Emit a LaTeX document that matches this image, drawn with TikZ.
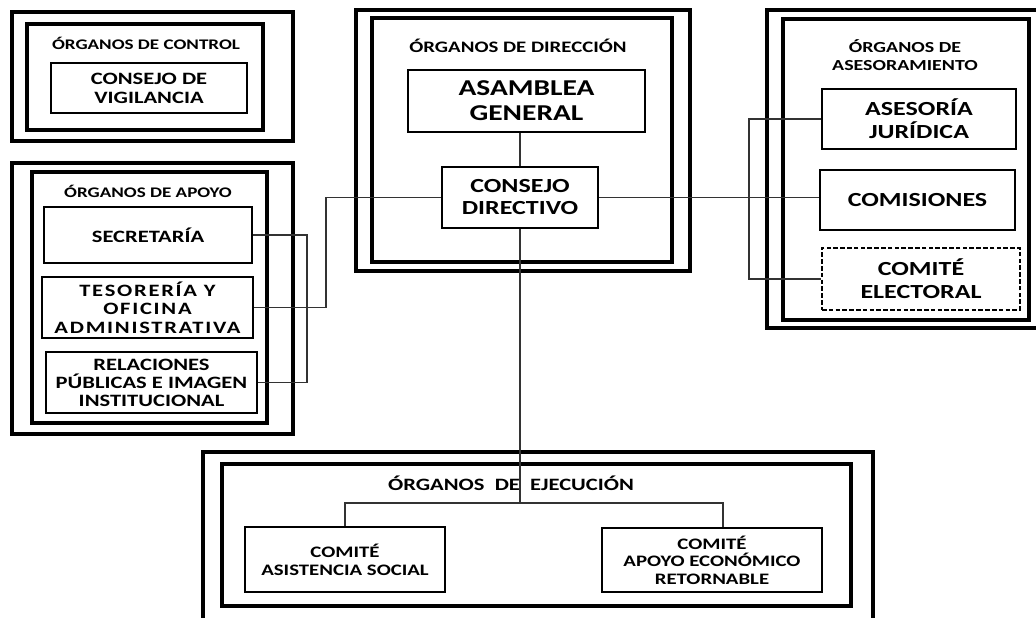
\documentclass[tikz,border=0pt]{standalone}
\usepackage{fontspec}
\setmainfont{Carlito}[FakeStretch=1.3]
\newcommand\fsz[2]{\fontsize{#1}{#2}\selectfont\bfseries}
\tikzset{
  rect/.style n args={4}{minimum width={(#3-#1)*0.75pt}, minimum height={(#4-#2)*0.75pt}, at={({(#1+#3)/2},{(#2+#4)/2})}},
  frame/.style={draw, line width=2.4pt, inner sep=0pt},
  box/.style={draw, line width=1.2pt, inner sep=0pt, align=center},
  dbox/.style={box, dash pattern=on 3.5pt off 1.6pt, line width=1.4pt},
  title/.style={inner sep=0pt, align=center},
  link/.style={draw=black!80, line width=0.9pt},
}
\begin{document}
\begin{tikzpicture}[x=0.75pt,y=-0.75pt]
\useasboundingbox (0,0) rectangle (1036,618);
\fill[white] (0,0) rectangle (1036,618);
\clip (0,0) rectangle (1036,618);

% ---- Control
\node[frame, rect={12}{12}{293}{141}] (ctrlO) {};
\node[frame, rect={27}{24}{263}{130}] (ctrlI) {};
\node[title, font=\fsz{11pt}{13pt}] (ctrlT) at (146,43) {ÓRGANOS DE CONTROL};
\node[box, font=\fsz{13pt}{14.25pt}, rect={51}{63}{247}{113}] (vig) {CONSEJO DE\\VIGILANCIA};

% ---- Apoyo
\node[frame, rect={12}{163}{293}{434}] (apoO) {};
\node[frame, rect={32}{172}{267}{423}] (apoI) {};
\node[title, font=\fsz{11pt}{13pt}] (apoT) at (148,191) {ÓRGANOS DE APOYO};
\node[box, font=\fsz{13pt}{14pt}, rect={44}{207}{252}{263}] (sec) {SECRETARÍA};
\node[box, font={\fsz{13pt}{13.9pt}\addfontfeature{LetterSpace=10}}, rect={42}{277}{253}{338}] (tes) {TESORERÍA Y\\OFICINA\\ADMINISTRATIVA};
\node[box, font=\fsz{13pt}{13.5pt}, rect={46}{352}{257}{413}] (rel) {RELACIONES\\PÚBLICAS E IMAGEN\\INSTITUCIONAL};

% ---- Direccion
\node[frame, rect={356}{10}{690}{271}] (dirO) {};
\node[frame, rect={372}{18}{672}{262}] (dirI) {};
\node[title, font=\fsz{12pt}{14pt}] (dirT) at (518,46) {ÓRGANOS DE DIRECCIÓN};
\node[box, font=\fsz{17pt}{18.75pt}, rect={408}{70}{645}{132}] (asam) {ASAMBLEA\\GENERAL};
\node[box, font=\fsz{15pt}{16.5pt}, rect={442}{167}{598}{228}] (cd) {CONSEJO\\DIRECTIVO};

% ---- Asesoramiento
\node[frame, rect={767}{10}{1045}{328}] (aseO) {};
\node[frame, rect={783}{19}{1029}{320}] (aseI) {};
\node[title, font=\fsz{11.5pt}{13.5pt}] (aseT) at (905,55) {ÓRGANOS DE\\ASESORAMIENTO};
\node[box, font=\fsz{15pt}{17.25pt}, rect={822}{89}{1016}{149}] (jur) {ASESORÍA\\JURÍDICA};
\node[box, font=\fsz{15pt}{17.25pt}, rect={820}{170}{1015}{230}] (com) {COMISIONES};
\node[dbox, font=\fsz{15pt}{17.25pt}, rect={822}{248}{1020}{310}] (elec) {COMITÉ\\ELECTORAL};

% ---- Ejecucion
\node[frame, rect={203}{452}{873}{630}] (ejeO) {};
\node[frame, rect={222}{464}{851}{606}] (ejeI) {};
\node[title, font=\fsz{13pt}{15pt}] (ejeT) at (511,483) {ÓRGANOS\ \ DE\ \ EJECUCIÓN};
\node[box, font=\fsz{12pt}{13.5pt}, rect={245}{527}{445}{592}] (asis) {COMITÉ\\ASISTENCIA SOCIAL};
\node[box, font=\fsz{12pt}{13.1pt}, rect={602}{528}{822}{592}] (apo) {COMITÉ\\APOYO ECONÓMICO\\RETORNABLE};

% ---- connectors
\coordinate (jA) at (326,199);
\coordinate (jB) at (307,236);
\coordinate (jC) at (749,199);
\coordinate (jD) at (520,503);
\coordinate (jE) at (723,503);

\draw[link] (cd.north) -- (cd.north |- asam.south);
\draw[link] (cd.west) -- (cd.west -| jA) |- (tes.east);
\draw[link] (sec.east) -- (sec.east -| jB) |- (rel.east);
\draw[link] (cd.east) -- (cd.east -| com.west);
\draw[link] (jur.west) -- (jur.west -| jC) |- (elec.west);
\draw[link] (cd.south) -- (cd.south |- jD);
\draw[link] (asis.north) |- (jE) -- (jE |- apo.north);
\end{tikzpicture}
\end{document}
